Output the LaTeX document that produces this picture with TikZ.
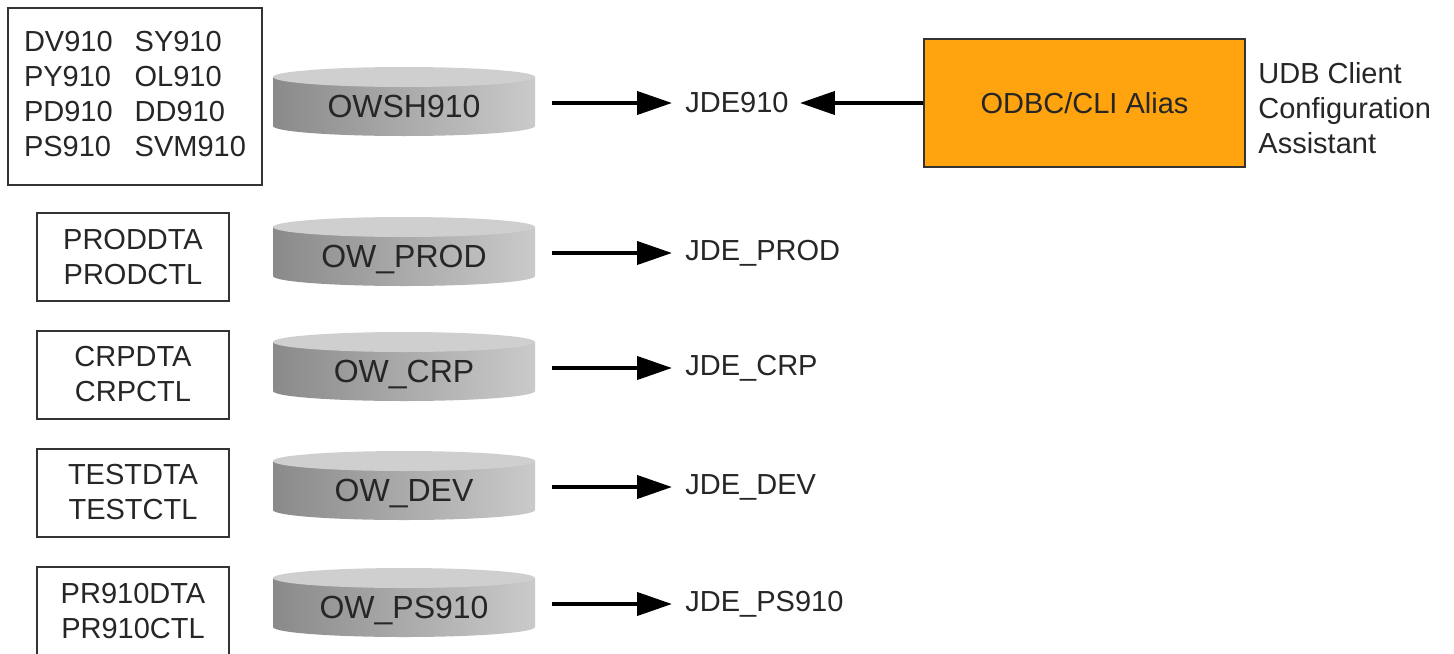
\documentclass[tikz,border=0pt]{standalone}
\usepackage{fontspec}
\setmainfont{Liberation Sans}
\usetikzlibrary{arrows.meta}

\definecolor{aliasorange}{HTML}{FFA30F}
\definecolor{diskdark}{HTML}{8A8A8A}
\definecolor{disklight}{HTML}{CACACA}
\definecolor{disktop}{HTML}{CFCFCF}

% disk: name, y, label
\newcommand{\disk}[3]{%
  \shade[left color=diskdark,right color=disklight] (273,#2-26) -- (273,#2+23)
    arc[start angle=180,end angle=0,x radius=131,y radius=10] -- (535,#2-26) -- cycle;
  \fill[disktop] (404,#2-26) ellipse[x radius=131,y radius=10];
  \node[minimum width=131pt,inner sep=0pt,text height=14.5pt,text depth=0pt,font=\fontsize{16}{19}\selectfont] (#1) at (404,#2) {#3};
}

\begin{document}
\begin{tikzpicture}[x=0.5pt,y=-0.5pt,font=\fontsize{14.5}{17.5}\selectfont,text=black!85]
  \useasboundingbox (0,0) rectangle (1454,653);

  \begin{scope}[every node/.style={draw=black!80,line width=1pt,align=center,minimum width=96pt,minimum height=44pt}]
    \node[minimum width=127pt,minimum height=88.5pt] (syslib) at (135,96.5) {%
      \begin{tabular}{@{}l@{\hspace{11pt}}l@{}}
        DV910 & SY910\\
        PY910 & OL910\\
        PD910 & DD910\\
        PS910 & SVM910
      \end{tabular}};
    \node (prodlib) at (133,257) {PRODDTA\\PRODCTL};
    \node (crplib) at (133,374.5) {CRPDTA\\CRPCTL};
    \node (testlib) at (133,492.5) {TESTDTA\\TESTCTL};
    \node (pslib) at (133,611) {PR910DTA\\PR910CTL};
  \end{scope}

  \disk{owsh}{103}{OWSH910}
  \disk{owprod}{253}{OW\_PROD}
  \disk{owcrp}{368}{OW\_CRP}
  \disk{owdev}{487}{OW\_DEV}
  \disk{owps}{604}{OW\_PS910}

  \begin{scope}[every node/.style={anchor=west,inner sep=0pt}]
    \node (jde910) at (685,103) {JDE910};
    \node (jdeprod) at (685,253) {JDE\_PROD};
    \node (jdecrp) at (685,368) {JDE\_CRP};
    \node (jdedev) at (685,487) {JDE\_DEV};
    \node (jdeps) at (685,604) {JDE\_PS910};
    \node[align=left] (udb) at (1258,108) {UDB Client\\Configuration\\Assistant};
  \end{scope}

  \node[draw=black!80,line width=1pt,fill=aliasorange,minimum width=160.5pt,minimum height=64pt] (odbc) at (1084.5,103) {ODBC/CLI Alias};

  \begin{scope}[>={Triangle[length=17.5pt,width=11.5pt]},every edge/.style={draw=black,line width=2pt}]
    \path [->,shorten <=8.5pt,shorten >=6.5pt] (owsh) edge (jde910);
    \path [->,shorten <=8.5pt,shorten >=6.5pt] (owprod) edge (jdeprod);
    \path [->,shorten <=8.5pt,shorten >=6.5pt] (owcrp) edge (jdecrp);
    \path [->,shorten <=8.5pt,shorten >=6.5pt] (owdev) edge (jdedev);
    \path [->,shorten <=8.5pt,shorten >=6.5pt] (owps) edge (jdeps);
    \path [->,shorten >=5.5pt] (odbc) edge (jde910);
  \end{scope}
\end{tikzpicture}
\end{document}
